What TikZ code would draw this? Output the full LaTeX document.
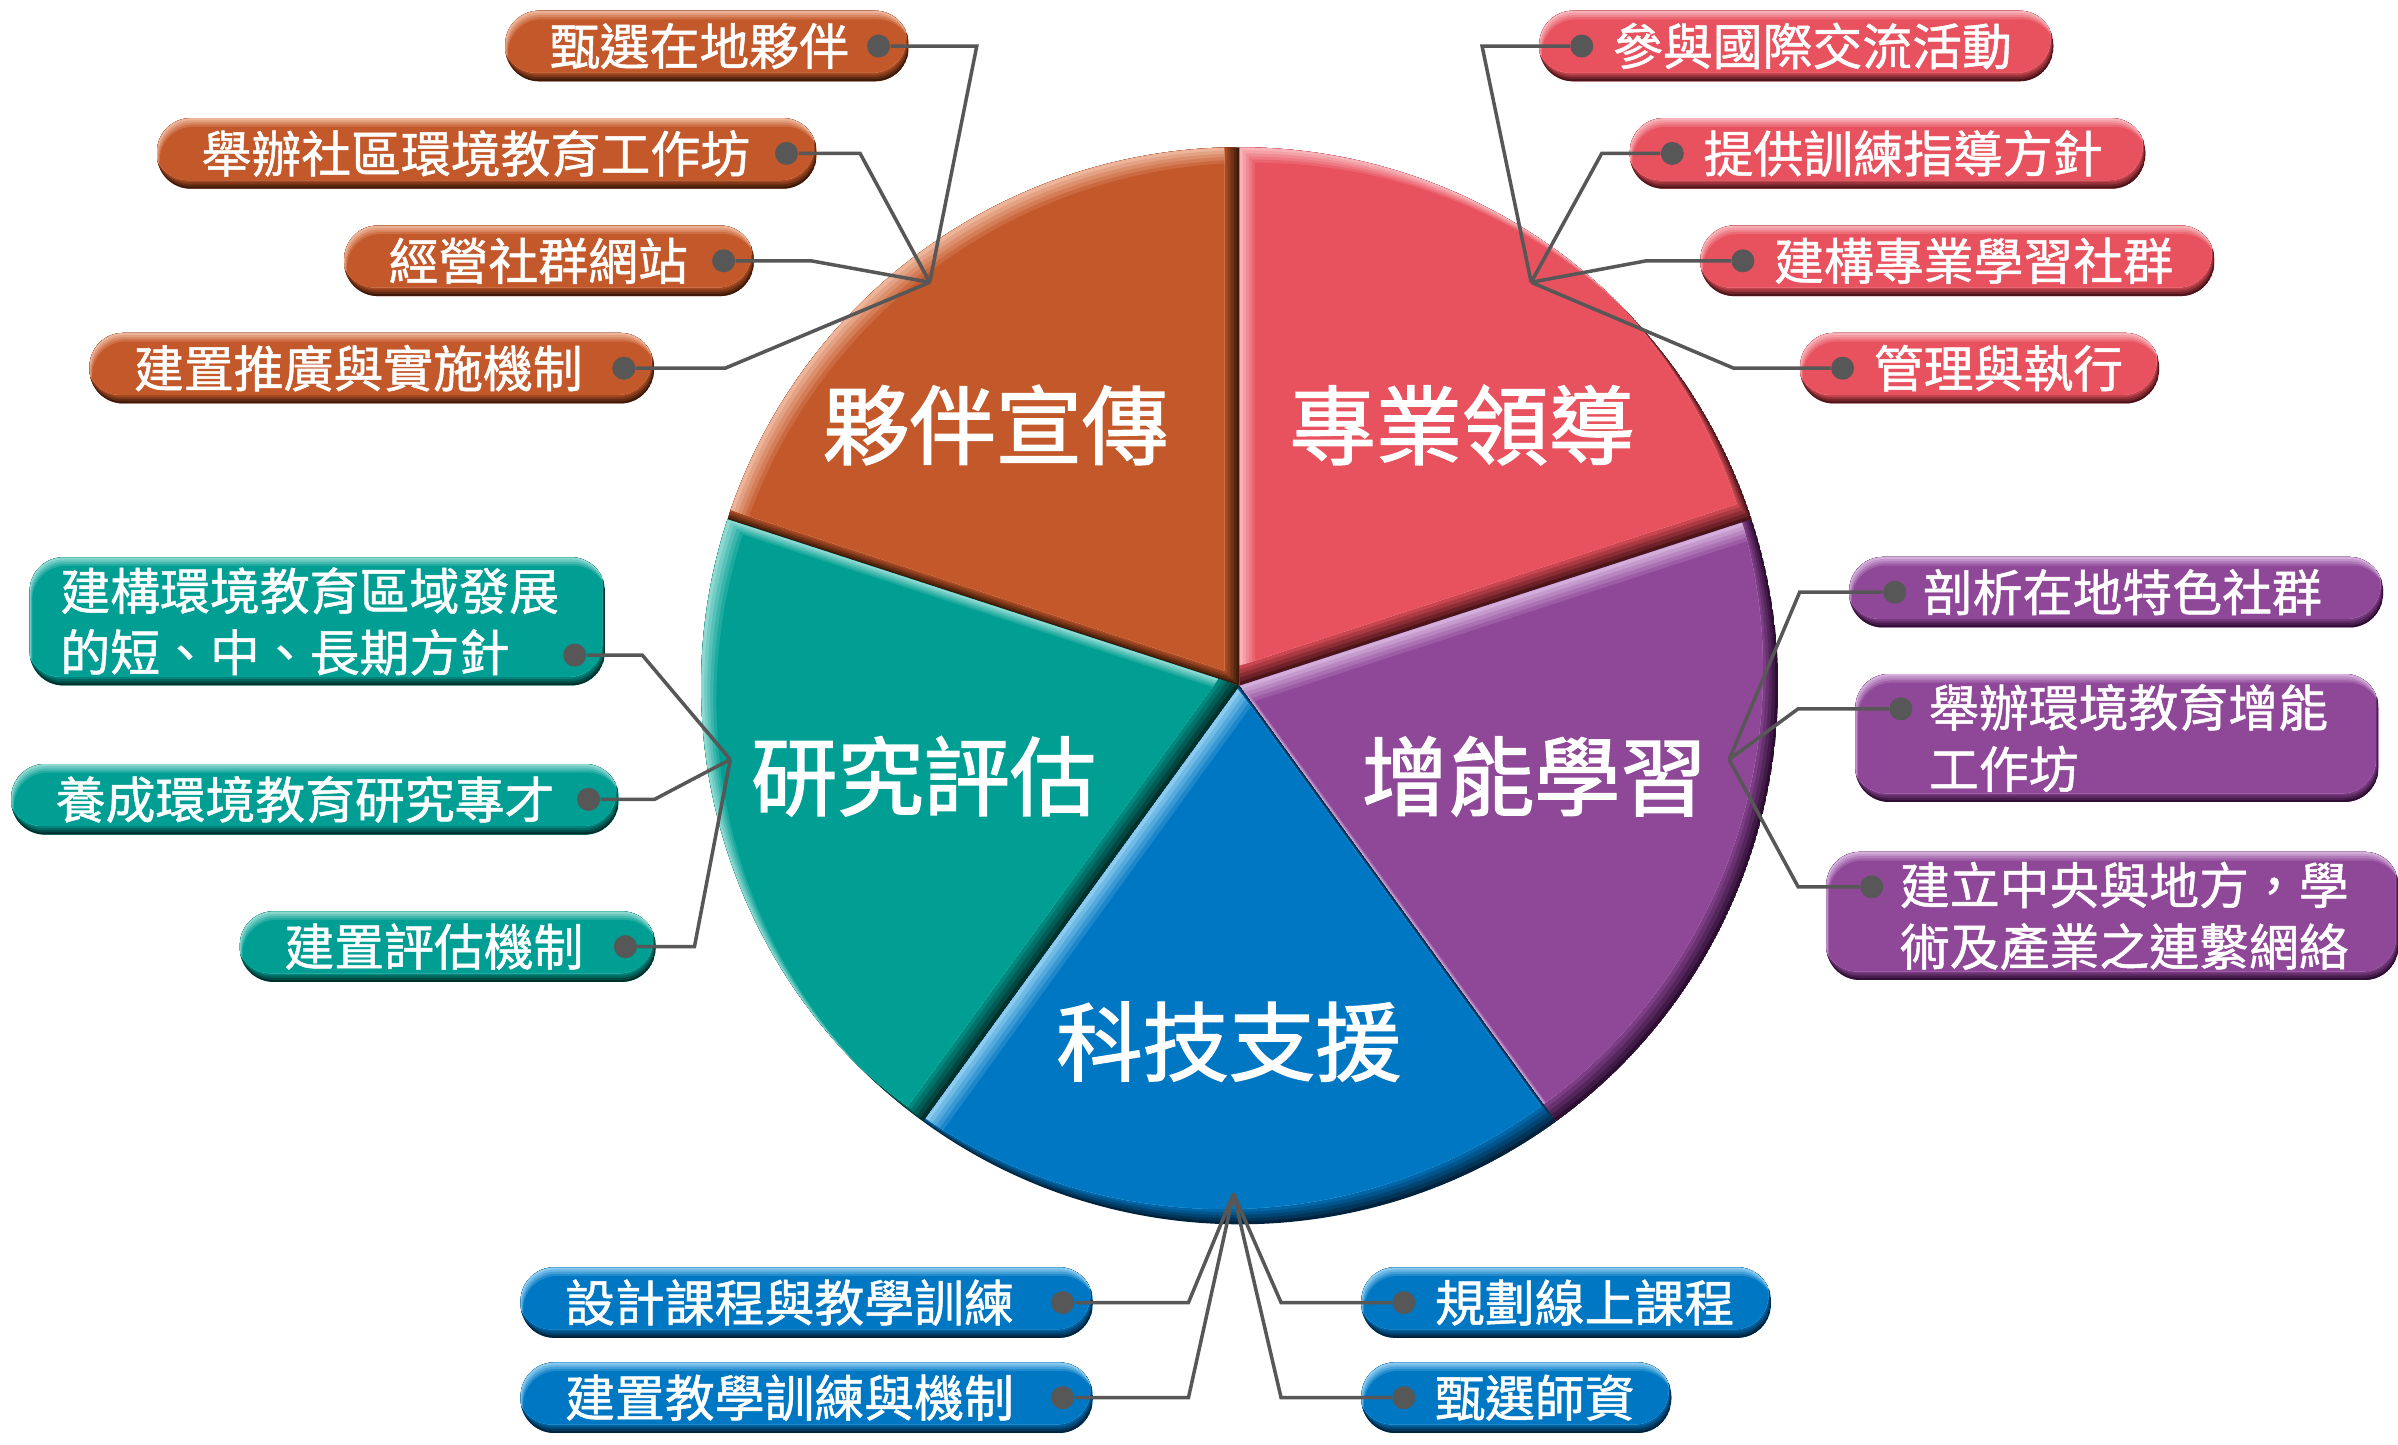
\documentclass[tikz,border=0pt]{standalone}
\usepackage{fontspec}
\newfontfamily\cjk{Noto Sans CJK TC}[FakeBold=1]
\newfontfamily\cjksec{Noto Sans CJK TC}[FakeBold=1.6]
\usetikzlibrary{calc}

\definecolor{orgMain}{HTML}{C3582A}
\definecolor{orgLight}{HTML}{EDB49A}
\definecolor{orgDark}{HTML}{3E1A0A}
\definecolor{redMain}{HTML}{E8525E}
\definecolor{redLight}{HTML}{F7B3B9}
\definecolor{redDark}{HTML}{4C1519}
\definecolor{purMain}{HTML}{8F4898}
\definecolor{purLight}{HTML}{D3AEDA}
\definecolor{purDark}{HTML}{2E0F33}
\definecolor{bluMain}{HTML}{0077C2}
\definecolor{bluLight}{HTML}{8CCBEF}
\definecolor{bluDark}{HTML}{00233D}
\definecolor{teaMain}{HTML}{009E93}
\definecolor{teaLight}{HTML}{8FD8D0}
\definecolor{teaDark}{HTML}{00302C}
\definecolor{linkgray}{HTML}{575757}

\newcommand\pieR{351}
\newcommand\wedgepath[2]{(0,0) -- (#1:\pieR) arc[start angle=#1, end angle=#2, radius=\pieR] -- cycle}
\newcommand\pillrect[2]{([xshift=#1, yshift=#2]path picture bounding box.south west) rectangle ([xshift=#1, yshift=#2]path picture bounding box.north east)}

% one bevelled slice of the pie
\newcommand\pieslice[3]{%
  \begin{scope}
    \clip \wedgepath{#1}{#2};
    \fill[#3Dark] \wedgepath{#1}{#2};
    \foreach \k in {1,...,5}{
      \pgfmathtruncatemacro\mix{20*\k}
      \fill[#3Main!\mix!#3Dark, shift={(-2*\k,2*\k)}] \wedgepath{#1}{#2};
    }
    \clip[shift={(-10,10)}] \wedgepath{#1}{#2};
    \fill[#3Light] \wedgepath{#1}{#2};
    \foreach \k in {1,...,5}{
      \pgfmathtruncatemacro\mix{20*\k}
      \fill[#3Main!\mix!#3Light, shift={(2*\k,-2*\k)}] \wedgepath{#1}{#2};
    }
  \end{scope}}

\begin{document}
\begin{tikzpicture}[x=0.02cm, y=0.02cm]

    \tikzset{
        sector/.style={text=white, font=\cjksec\fontsize{32}{38}\selectfont, inner sep=0pt},
        pillcorner/.style={rounded corners=0.44cm},
        pill/.style={rectangle, pillcorner, anchor=west, inner xsep=0.4cm, inner ysep=0.13cm,
            minimum height=0.92cm, align=left, text=white, fill=#1Main,
            font=\cjk\fontsize{18.5}{22.8}\selectfont,
            path picture={
                \fill[pillcorner, #1Dark] \pillrect{0pt}{0pt};
                \foreach \k in {1,...,4}{
                    \pgfmathtruncatemacro\mix{25*\k}
                    \fill[pillcorner, #1Main!\mix!#1Dark] \pillrect{-0.25pt*\k}{0.8pt*\k};
                }
                \begin{scope}
                    \clip[pillcorner] \pillrect{-1pt}{3.2pt};
                    \fill[#1Light] \pillrect{0pt}{0pt};
                    \foreach \k in {1,...,4}{
                        \pgfmathtruncatemacro\mix{25*\k}
                        \fill[pillcorner, #1Main!\mix!#1Light] \pillrect{0.25pt*\k}{-0.8pt*\k};
                    }
                \end{scope}
            }},
        dotR/.style={execute at begin node={\leftskip=0.18cm}},
        dotL/.style={execute at begin node={\leftskip=0.56cm}},
        dot/.style={circle, fill=linkgray, inner sep=0pt, minimum size=0.3cm},
        link/.style={draw=linkgray, line width=1.3pt, to path={-- ++(#1,0) -- (\tikztotarget)}}
    }

    % Background
    \fill[white] (0,0) rectangle (1563,-941.2);
    \useasboundingbox (0,0) rectangle (1563,-941.2);

    % Pie
    \begin{scope}[shift={(808,-447)}]
        \pieslice{90}{162}{org}
        \pieslice{18}{90}{red}
        \pieslice{-54}{18}{pur}
        \pieslice{-126}{-54}{blu}
        \pieslice{162}{234}{tea}
    \end{scope}

    % Slice titles
    \node at (649,-277)  [sector] (sPartner)  {夥伴宣傳};
    \node at (953,-277)  [sector] (sLead)     {專業領導};
    \node at (1000,-506) [sector] (sLearn)    {增能學習};
    \node at (801,-679)  [sector] (sTech)     {科技支援};
    \node at (602,-506)  [sector] (sResearch) {研究評估};

    % Hubs on the rim
    \coordinate (hO) at (606,-184);
    \coordinate (hR) at (998,-184);
    \coordinate (hP) at (1127,-495);
    \coordinate (hT) at (476,-495);
    \coordinate (hB) at (804,-778);

    % Partner boxes
    \node at (329,-30)  [pill=org, dotR, text width=4.46cm] (o1) {甄選在地夥伴};
    \node at (102,-100) [pill=org, dotR, text width=7.80cm] (o2) {舉辦社區環境教育工作坊};
    \node at (224,-170) [pill=org, dotR, text width=4.54cm] (o3) {經營社群網站};
    \node at (58,-240)  [pill=org, dotR, text width=6.56cm] (o4) {建置推廣與實施機制};

    % Leadership boxes
    \node at (1003,-30)  [pill=red, dotL, text width=5.90cm] (r1) {參與國際交流活動};
    \node at (1062,-100) [pill=red, dotL, text width=5.92cm] (r2) {提供訓練指導方針};
    \node at (1108,-170) [pill=red, dotL, text width=5.90cm] (r3) {建構專業學習社群};
    \node at (1173,-240) [pill=red, dotL, text width=3.88cm] (r4) {管理與執行};

    % Learning boxes
    \node at (1205,-386) [pill=pur, dotL, text width=6.16cm] (p1) {剖析在地特色社群};
    \node at (1209,-481) [pill=pur, dotL, text width=6.02cm] (p2) {舉辦環境教育增能\\工作坊};
    \node at (1190,-597) [pill=pur, dotL, text width=6.66cm] (p3) {建立中央與地方，學\\術及產業之連繫網絡};

    % Research boxes
    \node at (19,-405)  [pill=tea, text width=6.70cm] (t1) {建構環境教育區域發展\\的短、中、長期方針};
    \node at (7,-521)   [pill=tea, dotR, text width=7.12cm] (t2) {養成環境教育研究專才};
    \node at (156,-617) [pill=tea, dotR, text width=4.62cm] (t3) {建置評估機制};

    % Technology boxes
    \node at (339,-849) [pill=blu, dotR, text width=6.66cm] (b1) {設計課程與教學訓練};
    \node at (339,-911) [pill=blu, dotR, text width=6.66cm] (b2) {建置教學訓練與機制};
    \node at (887,-849) [pill=blu, dotL, text width=4.54cm] (b3) {規劃線上課程};
    \node at (887,-911) [pill=blu, dotL, text width=3.24cm] (b4) {甄選師資};

    % Dots and connectors
    \node at ($(o1.east)+(-20,0)$) [dot] (o1d) {} edge [link=64] (hO);
    \node at ($(o2.east)+(-20,0)$) [dot] (o2d) {} edge [link=48] (hO);
    \node at ($(o3.east)+(-20,0)$) [dot] (o3d) {} edge [link=57] (hO);
    \node at ($(o4.east)+(-20,0)$) [dot] (o4d) {} edge [link=66] (hO);

    \node at ($(r1.west)+(28,0)$) [dot] (r1d) {} edge [link=-65] (hR);
    \node at ($(r2.west)+(28,0)$) [dot] (r2d) {} edge [link=-46] (hR);
    \node at ($(r3.west)+(28,0)$) [dot] (r3d) {} edge [link=-63] (hR);
    \node at ($(r4.west)+(28,0)$) [dot] (r4d) {} edge [link=-71] (hR);

    \node at ($(p1.west)+(30,0)$)  [dot] (p1d) {} edge [link=-62] (hP);
    \node at ($(p2.west)+(30,19)$) [dot] (p2d) {} edge [link=-67] (hP);
    \node at ($(p3.west)+(30,19)$) [dot] (p3d) {} edge [link=-48] (hP);

    \node at ($(t1.east)+(-20,-22)$) [dot] (t1d) {} edge [link=44] (hT);
    \node at ($(t2.east)+(-20,0)$)   [dot] (t2d) {} edge [link=43] (hT);
    \node at ($(t3.east)+(-20,0)$)   [dot] (t3d) {} edge [link=45] (hT);

    \node at ($(b1.east)+(-20,0)$) [dot] (b1d) {} edge [link=82] (hB);
    \node at ($(b2.east)+(-20,0)$) [dot] (b2d) {} edge [link=82] (hB);
    \node at ($(b3.west)+(28,0)$)  [dot] (b3d) {} edge [link=-80] (hB);
    \node at ($(b4.west)+(28,0)$)  [dot] (b4d) {} edge [link=-80] (hB);

\end{tikzpicture}
\end{document}
